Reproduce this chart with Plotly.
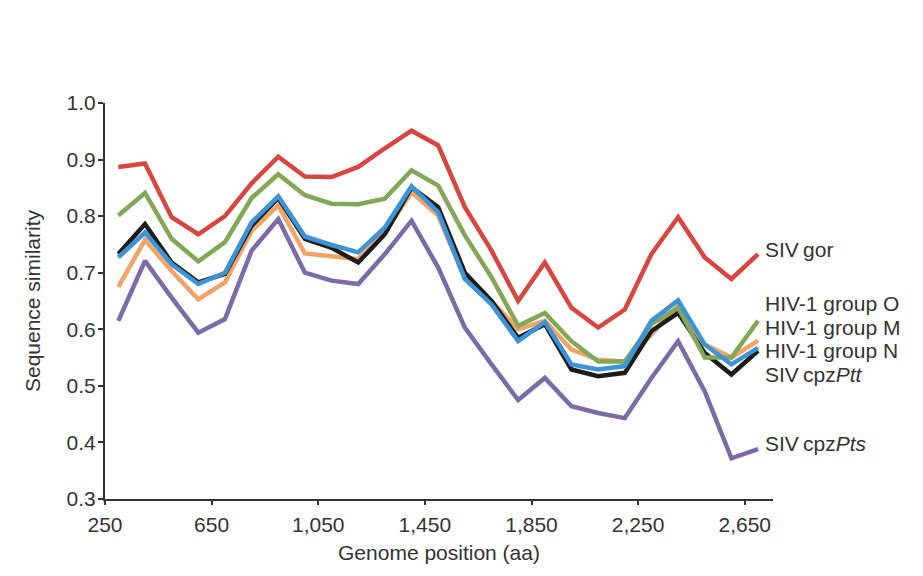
import plotly.graph_objects as go

# Genome position (aa), one point every 100 aa
positions = [300, 400, 500, 600, 700, 800, 900, 1000, 1100, 1200, 1300, 1400, 1500,
             1600, 1700, 1800, 1900, 2000, 2100, 2200, 2300, 2400, 2500, 2600, 2700]

siv_gor = [0.887, 0.893, 0.798, 0.768, 0.800, 0.858, 0.905, 0.870, 0.869, 0.887, 0.920, 0.951, 0.925,
           0.816, 0.739, 0.650, 0.718, 0.638, 0.603, 0.635, 0.733, 0.798, 0.727, 0.689, 0.733]
hiv1_o = [0.801, 0.841, 0.760, 0.720, 0.754, 0.832, 0.874, 0.837, 0.822, 0.821, 0.831, 0.881, 0.854,
          0.766, 0.692, 0.606, 0.629, 0.579, 0.543, 0.543, 0.609, 0.638, 0.550, 0.550, 0.615]
hiv1_m = [0.675, 0.758, 0.703, 0.653, 0.683, 0.774, 0.819, 0.734, 0.729, 0.724, 0.771, 0.842, 0.801,
          0.689, 0.650, 0.600, 0.615, 0.564, 0.546, 0.543, 0.591, 0.641, 0.573, 0.550, 0.580]
hiv1_n = [0.733, 0.786, 0.718, 0.683, 0.698, 0.783, 0.832, 0.760, 0.744, 0.718, 0.768, 0.851, 0.816,
          0.700, 0.650, 0.585, 0.609, 0.529, 0.517, 0.523, 0.597, 0.629, 0.558, 0.520, 0.562]
siv_cpz_ptt = [0.727, 0.771, 0.715, 0.680, 0.700, 0.789, 0.835, 0.764, 0.749, 0.736, 0.780, 0.853, 0.807,
               0.689, 0.644, 0.579, 0.613, 0.538, 0.529, 0.535, 0.615, 0.651, 0.573, 0.538, 0.567]
siv_cpz_pts = [0.615, 0.721, 0.656, 0.594, 0.618, 0.739, 0.795, 0.700, 0.686, 0.680, 0.733, 0.792, 0.709,
               0.603, 0.538, 0.475, 0.514, 0.464, 0.452, 0.443, 0.514, 0.579, 0.490, 0.372, 0.388]

x_tick_vals = [250, 650, 1050, 1450, 1850, 2250, 2650]
x_tick_text = ["250", "650", "1,050", "1,450", "1,850", "2,250", "2,650"]
y_tick_vals = [0.3, 0.4, 0.5, 0.6, 0.7, 0.8, 0.9, 1.0]
y_tick_text = ["0.3", "0.4", "0.5", "0.6", "0.7", "0.8", "0.9", "1.0"]

# (name, values, colour, label text, label y) in drawing order
series = [
    ("SIVcpzPts", siv_cpz_pts, "#7b6ba8", "SIV\u2009cpz<i>Pts</i>", 0.398),
    ("HIV-1 group M", hiv1_m, "#f2a366", "HIV-1 group M", 0.604),
    ("HIV-1 group N", hiv1_n, "#1c1c1c", "HIV-1 group N", 0.563),
    ("HIV-1 group O", hiv1_o, "#82a856", "HIV-1 group O", 0.645),
    ("SIVcpzPtt", siv_cpz_ptt, "#3d93d8", "SIV\u2009cpz<i>Ptt</i>", 0.520),
    ("SIVgor", siv_gor, "#d9453f", "SIV\u2009gor", 0.741),
]

font_family = "Liberation Sans, Arial, Helvetica, sans-serif"
text_color = "#333333"
fs = 21

fig = go.Figure()
annotations = []
for name, vals, color, label, label_y in series:
    fig.add_trace(go.Scatter(x=positions, y=vals, mode="lines", name=name,
                             line=dict(color=color, width=4.5), showlegend=False))
    annotations.append(dict(x=positions[-1], y=label_y, xref="x", yref="y",
                            text=label, showarrow=False, xanchor="left", yanchor="middle",
                            xshift=5, font=dict(family=font_family, size=fs, color=text_color)))

fig.update_layout(
    width=923, height=576,
    margin=dict(l=97, r=158, t=95, b=85),
    plot_bgcolor="white", paper_bgcolor="white",
    annotations=annotations,
    font=dict(family=font_family, size=fs, color=text_color),
    xaxis=dict(range=[250, 2756], tickvals=x_tick_vals, ticktext=x_tick_text,
               automargin=False,
               showgrid=False, zeroline=False, showline=True, linecolor="#333333", linewidth=2,
               ticks="outside", ticklen=4, tickwidth=2, tickcolor="#333333",
               ticklabelstandoff=2,
               title=dict(text="Genome position (aa)", standoff=10,
                          font=dict(family=font_family, size=fs, color=text_color)),
               tickfont=dict(family=font_family, size=fs, color=text_color)),
    yaxis=dict(range=[0.3, 1.0], tickvals=y_tick_vals, ticktext=y_tick_text,
               automargin=False,
               showgrid=False, zeroline=False, showline=True, linecolor="#333333", linewidth=2,
               ticks="outside", ticklen=5, tickwidth=2, tickcolor="#333333",
               ticklabelstandoff=-2,
               title=dict(text="Sequence similarity", standoff=20,
                          font=dict(family=font_family, size=fs, color=text_color)),
               tickfont=dict(family=font_family, size=fs, color=text_color)),
)

fig.write_html("out.html")
